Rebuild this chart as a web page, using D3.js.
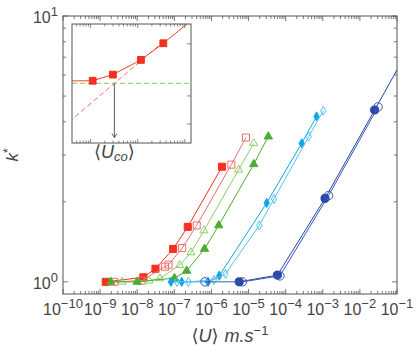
<!DOCTYPE html>
<html>
<head>
<meta charset="utf-8">
<script src="https://cdn.jsdelivr.net/npm/d3@7"></script>
<style>
  body { margin: 0; background: #fff; }
  svg { display: block; }
</style>
</head>
<body>
<svg width="418" height="355"></svg>
<script>
// k* vs mean velocity <U>, filled / open pairs per colour

const redFilledU = [1.42e-9, 1.46e-8, 3.1e-8, 9.3e-8, 2.3e-7, 1.93e-6]
const redFilledK = [1.0, 1.04, 1.12, 1.33, 1.61, 2.71]
const redOpenU = [2.4e-9, 1.32e-8, 5.6e-8, 7.0e-8, 1.63e-7, 4.0e-7, 3.43e-6, 8.5e-6]
const redOpenK = [1.0, 1.01, 1.14, 1.16, 1.34, 1.63, 2.76, 3.49]
const greenOpenU = [3.9e-9, 2.1e-8, 4.1e-8, 1.39e-7, 2.8e-7, 6.3e-7, 5.4e-6, 1.38e-5]
const greenOpenK = [1.0, 1.01, 1.03, 1.155, 1.29, 1.56, 2.64, 3.32]
const greenFilledU = [1.94e-9, 9.9e-9, 1.01e-7, 2.15e-7, 6.5e-7, 1.57e-6, 1.38e-5, 3.4e-5]
const greenFilledK = [1.0, 1.0, 1.033, 1.1, 1.33, 1.63, 2.77, 3.52]
const cyanFilledU = [8.1e-8, 1.58e-7, 8.1e-7, 1.63e-6, 3.08e-5, 2.7e-4, 6.8e-4]
const cyanFilledK = [1.0, 1.0, 1.0, 1.055, 1.98, 3.32, 4.19]
const cyanOpenU = [1.18e-7, 2.38e-7, 1.17e-6, 2.39e-6, 1.94e-5, 4.85e-5, 4.18e-4, 1.03e-3]
const cyanOpenK = [1.0, 1.0, 1.017, 1.072, 1.63, 2.05, 3.52, 4.40]
const blueFilledU = [5.6e-6, 6.0e-5, 1.15e-3, 2.5e-2, 3.2e-1]
const blueFilledK = [1.0, 1.06, 2.06, 4.43, 8.4]
const blueOpenU = [6.7e-7, 6.8e-6, 7.0e-5, 1.43e-3, 3.08e-2]
const blueOpenK = [1.0, 1.0, 1.053, 2.11, 4.55]

const xDecades = [-10, -9, -8, -7, -6, -5, -4, -3, -2, -1]
const yDecades = [0, 1]

// inset (schematic, arbitrary units)
const insetU = [0.35, 1.11, 2.97, 11.7, 34.9, 167]
const insetK = [1.015, 1.016, 1.053, 1.147, 1.264, 1.47]
const asymptoteU = [0.35, 35]
const asymptoteK = [0.80, 1.275]
const uCo = 3.2
const arrowTipK = 0.73
const insetRightTicks = [0.79, 0.93, 1.26]

const width = 418
const height = 355
const margin = {top: 16, right: 21, bottom: 61, left: 63}

const x = d3.scaleLog()
  .domain([1e-10, 1e-1])
  .range([margin.left, width - margin.right])

const y = d3.scaleLog()
  .domain([0.9, 10])
  .range([height - margin.bottom, margin.top])

const frameColor = '#555'
const labelColor = '#444'
const font = 'Liberation Sans, Arial, sans-serif'

const svg = d3.select('svg')

svg.append('defs').append('clipPath').attr('id', 'plotClip')
  .append('rect')
  .attr('x', x.range()[0]).attr('y', y.range()[1])
  .attr('width', x.range()[1] - x.range()[0])
  .attr('height', y.range()[0] - y.range()[1])

// ---- ticks ----
function minorValues(lo, hi) {
  const out = []
  for (let e = Math.floor(Math.log10(lo)) - 1; e <= Math.ceil(Math.log10(hi)); e++) {
    for (let m = 2; m <= 9; m++) {
      const v = m * Math.pow(10, e)
      if (v > lo && v < hi) out.push(v)
    }
  }
  return out
}

const tickG = svg.append('g').attr('stroke', frameColor).attr('stroke-width', 0.8)
const [x0, x1] = x.range()
const [y0, y1] = y.range() // y0 bottom, y1 top

const xMajor = xDecades.map(e => Math.pow(10, e))
const xMinor = minorValues(1e-10, 1e-1)
function xTicks(vals, len) {
  vals.forEach(v => {
    tickG.append('line').attr('x1', x(v)).attr('x2', x(v)).attr('y1', y0).attr('y2', y0 - len)
    tickG.append('line').attr('x1', x(v)).attr('x2', x(v)).attr('y1', y1).attr('y2', y1 + len)
  })
}
xTicks(xMajor, 5)
xTicks(xMinor, 3)

const yMajor = yDecades.map(e => Math.pow(10, e))
const yMinor = minorValues(0.9, 10)
function yTicks(vals, len) {
  vals.forEach(v => {
    tickG.append('line').attr('x1', x0).attr('x2', x0 + len).attr('y1', y(v)).attr('y2', y(v))
    tickG.append('line').attr('x1', x1).attr('x2', x1 - len).attr('y1', y(v)).attr('y2', y(v))
  })
}
yTicks(yMajor, 5)
yTicks(yMinor, 3)

// ---- tick labels ----
const xLabels = svg.append('g')
  .attr('font-family', font).attr('fill', labelColor)
  .attr('text-anchor', 'middle')
xDecades.forEach(e => {
  const t = xLabels.append('text')
    .attr('x', x(Math.pow(10, e))).attr('y', y0 + 21)
    .attr('font-size', 16)
  t.append('tspan').text('10')
  t.append('tspan').attr('dy', -7).attr('font-size', 13).text((e < 0 ? '\u2212' : '') + Math.abs(e))
})

const yLabels = svg.append('g')
  .attr('font-family', font).attr('fill', labelColor)
  .attr('text-anchor', 'end')
yDecades.forEach(e => {
  const t = yLabels.append('text')
    .attr('x', x0 - 5).attr('y', y(Math.pow(10, e)) + 7)
    .attr('font-size', 16)
  t.append('tspan').text('10')
  t.append('tspan').attr('dy', -7).attr('font-size', 13).text(String(e))
})

// axis titles
const xt = svg.append('text')
  .attr('x', (x0 + x1) / 2).attr('y', 342)
  .attr('text-anchor', 'middle')
  .attr('font-family', font).attr('font-size', 18).attr('fill', labelColor)
xt.append('tspan').attr('font-family', 'DejaVu Sans').text('\u27E8')
xt.append('tspan').attr('font-style', 'italic').text('U')
xt.append('tspan').attr('font-family', 'DejaVu Sans').text('\u27E9')
xt.append('tspan').attr('font-style', 'italic').attr('dx', 6).text('m.s')
xt.append('tspan').attr('dy', -7).attr('font-size', 13).text('\u22121')

const yt = svg.append('text')
  .attr('transform', `translate(18, ${(y0 + y1) / 2}) rotate(-90)`)
  .attr('text-anchor', 'middle')
  .attr('font-family', font).attr('font-size', 17).attr('fill', labelColor)
yt.append('tspan').attr('font-style', 'italic').text('k')
yt.append('tspan').attr('dy', -6).attr('font-size', 12).text('*')

// ---- series ----
const series = [
  {u: redFilledU, k: redFilledK, color: '#f5301e', type: d3.symbolSquare, size: 50, filled: true},
  {u: redOpenU, k: redOpenK, color: '#f26b6b', type: d3.symbolSquare, size: 50, filled: false},
  {u: greenOpenU, k: greenOpenK, color: '#8ccf6a', type: d3.symbolTriangle, size: 28, filled: false},
  {u: greenFilledU, k: greenFilledK, color: '#4cae2e', type: d3.symbolTriangle, size: 30, filled: true},
  {u: cyanFilledU, k: cyanFilledK, color: '#0ea6e6', type: d3.symbolDiamond, size: 24, filled: true},
  {u: cyanOpenU, k: cyanOpenK, color: '#55c2ee', type: d3.symbolDiamond, size: 24, filled: false},
  {u: blueFilledU, k: blueFilledK, color: '#2446a6', type: d3.symbolCircle, size: 52, filled: true},
  {u: blueOpenU, k: blueOpenK, color: '#3b57b2', type: d3.symbolCircle, size: 56, filled: false}
]

const plotG = svg.append('g').attr('clip-path', 'url(#plotClip)')
const line = d3.line().x(d => x(d[0])).y(d => y(d[1]))

series.forEach(s => {
  const pts = s.u.map((u, i) => [u, s.k[i]])
  plotG.append('path')
    .datum(pts)
    .attr('d', line)
    .attr('fill', 'none')
    .attr('stroke', s.color)
    .attr('stroke-width', 1)
  plotG.append('g')
    .selectAll('path')
    .data(pts)
    .join('path')
    .attr('transform', d => `translate(${x(d[0])},${y(d[1])})`)
    .attr('d', d3.symbol().type(s.type).size(s.size))
    .attr('fill', s.filled ? s.color : 'none')
    .attr('stroke', s.color)
    .attr('stroke-width', 1)
})

// frame
svg.append('rect')
  .attr('x', x0).attr('y', y1)
  .attr('width', x1 - x0).attr('height', y0 - y1)
  .attr('fill', 'none').attr('stroke', frameColor).attr('stroke-width', 1)

// ---- inset ----
const ix = d3.scaleLog().domain([0.404, 135]).range([72, 191])
const iy = d3.scaleLog().domain([0.707, 1.414]).range([143, 24])
const [ix0, ix1] = ix.range()
const [iy0, iy1] = iy.range()

svg.select('defs').append('clipPath').attr('id', 'insetClip')
  .append('rect')
  .attr('x', ix0).attr('y', iy1)
  .attr('width', ix1 - ix0).attr('height', iy0 - iy1)

svg.append('rect')
  .attr('x', ix0).attr('y', iy1)
  .attr('width', ix1 - ix0).attr('height', iy0 - iy1)
  .attr('fill', '#fff')

const insetG = svg.append('g').attr('clip-path', 'url(#insetClip)')
const iline = d3.line().x(d => ix(d[0])).y(d => iy(d[1]))

// k = 1 reference
insetG.append('path')
  .datum([[ix.domain()[0], 1], [ix.domain()[1], 1]])
  .attr('d', iline)
  .attr('stroke', '#98d47a').attr('stroke-width', 1.2)
  .attr('stroke-dasharray', '5,3').attr('fill', 'none')

// asymptote
insetG.append('path')
  .datum(asymptoteU.map((u, i) => [u, asymptoteK[i]]))
  .attr('d', iline)
  .attr('stroke', '#f0705e').attr('stroke-width', 1)
  .attr('stroke-dasharray', '5,3').attr('fill', 'none')

const insetPts = insetU.map((u, i) => [u, insetK[i]])
insetG.append('path')
  .datum(insetPts)
  .attr('d', iline)
  .attr('stroke', '#f04030').attr('stroke-width', 1).attr('fill', 'none')
insetG.append('g')
  .selectAll('path')
  .data(insetPts.slice(1, -1))
  .join('path')
  .attr('transform', d => `translate(${ix(d[0])},${iy(d[1])})`)
  .attr('d', d3.symbol().type(d3.symbolSquare).size(46))
  .attr('fill', '#f5301e').attr('stroke', '#f5301e')

// arrow to U_co
const ax = ix(uCo)
insetG.append('line')
  .attr('x1', ax).attr('x2', ax)
  .attr('y1', iy(1)).attr('y2', iy(arrowTipK))
  .attr('stroke', '#333').attr('stroke-width', 0.8)
insetG.append('path')
  .attr('d', `M${ax - 2.5},${iy(arrowTipK) - 4}L${ax},${iy(arrowTipK)}L${ax + 2.5},${iy(arrowTipK) - 4}`)
  .attr('fill', 'none').attr('stroke', '#333').attr('stroke-width', 0.8)

// inset ticks
const itick = svg.append('g').attr('stroke', frameColor).attr('stroke-width', 0.7)
const ixMajor = [1, 10, 100]
const ixMinor = minorValues(0.404, 135)
;[[ixMajor, 4], [ixMinor, 2.5]].forEach(([vals, len]) => {
  vals.forEach(v => {
    itick.append('line').attr('x1', ix(v)).attr('x2', ix(v)).attr('y1', iy0).attr('y2', iy0 - len)
    itick.append('line').attr('x1', ix(v)).attr('x2', ix(v)).attr('y1', iy1).attr('y2', iy1 + len)
  })
})
insetRightTicks.forEach(v => {
  itick.append('line').attr('x1', ix1).attr('x2', ix1 - 4).attr('y1', iy(v)).attr('y2', iy(v))
})

svg.append('rect')
  .attr('x', ix0).attr('y', iy1)
  .attr('width', ix1 - ix0).attr('height', iy0 - iy1)
  .attr('fill', 'none').attr('stroke', frameColor).attr('stroke-width', 1)

// U_co label
const ul = svg.append('text')
  .attr('x', ax).attr('y', iy0 + 15)
  .attr('text-anchor', 'middle')
  .attr('font-family', font).attr('font-size', 18).attr('fill', labelColor)
ul.append('tspan').attr('font-family', 'DejaVu Sans').text('\u27E8')
ul.append('tspan').attr('font-style', 'italic').text('U')
ul.append('tspan').attr('dy', 3).attr('font-size', 13).attr('font-style', 'italic').text('co')
ul.append('tspan').attr('dy', -3).attr('font-family', 'DejaVu Sans').text('\u27E9')
</script>
</body>
</html>
